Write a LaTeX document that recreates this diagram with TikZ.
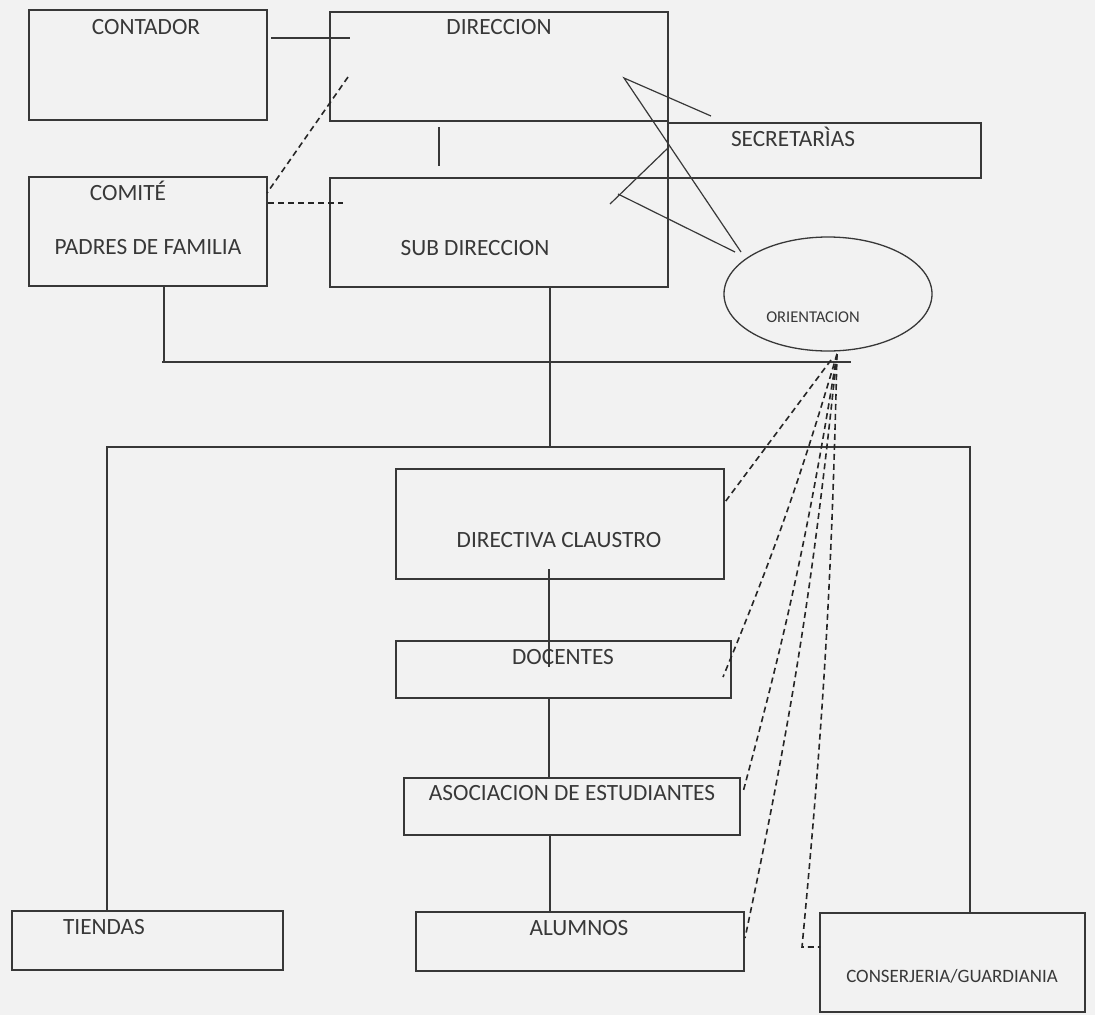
\documentclass[tikz,border=0pt]{standalone}
\usepackage{fontspec}
\setmainfont{Carlito}
\usetikzlibrary{shapes.geometric}
\definecolor{ink}{HTML}{383838}
\definecolor{paper}{HTML}{F2F2F2}
\begin{document}
\begin{tikzpicture}[x=1pt,y=-1pt,
  box/.style={draw=ink,line width=1.1pt,rectangle,inner sep=0pt},
  oval/.style={draw=ink,line width=1.3pt,ellipse,inner sep=0pt},
  lbl/.style={text=ink,inner sep=0pt,font=\fontsize{23.3}{26}\selectfont,text height=15pt,text depth=0pt},
  small/.style={text=ink,inner sep=0pt,font=\fontsize{16.5}{19}\selectfont,text height=10.6pt,text depth=0pt},
  mid/.style={text=ink,inner sep=0pt,font=\fontsize{18.9}{22}\selectfont,text height=12.2pt,text depth=0pt},
  link/.style={draw=ink,line width=1.2pt},
  dlink/.style={draw=black!85,line width=1.6pt,dash pattern=on 6pt off 4pt}]
\fill[paper] (0,0) rectangle (1095,1015);
\useasboundingbox (0,0) rectangle (1095,1015);

% boxes
\node[box,minimum width=238,minimum height=110] (contador) at (148,65) {};
\node[box,minimum width=338,minimum height=109] (direccion) at (499,66.5) {};
\node[box,minimum width=313,minimum height=55] (secretarias) at (824.5,150.5) {};
\node[box,minimum width=238,minimum height=109] (comite) at (148,231.5) {};
\node[box,minimum width=338,minimum height=109] (subdir) at (499,232.5) {};
\node[oval,minimum width=208,minimum height=114] (orient) at (828,294) {};
\node[box,minimum width=328,minimum height=110] (directiva) at (560,524) {};
\node[box,minimum width=335,minimum height=57] (docentes) at (563.5,669.5) {};
\node[box,minimum width=336,minimum height=57] (asoc) at (572,806.5) {};
\node[box,minimum width=328,minimum height=59] (alumnos) at (580,941.5) {};
\node[box,minimum width=271,minimum height=59] (tiendas) at (147.5,940.5) {};
\node[box,minimum width=265,minimum height=99] (conserj) at (952.5,962.5) {};

% labels
\node[lbl] (tcontador) at (146,27) {CONTADOR};
\node[lbl] (tdireccion) at (499,27) {DIRECCION};
\node[lbl] (tsecret) at (793,139) {SECRETARÌAS};
\node[lbl] (tcomite) at (128,193) {COMITÉ};
\node[lbl] (tpadres) at (148,247) {PADRES DE FAMILIA};
\node[lbl] (tsub) at (475,248) {SUB DIRECCION};
\node[small] (torient) at (813,317) {ORIENTACION};
\node[lbl] (tdirectiva) at (559,540) {DIRECTIVA CLAUSTRO};
\node[lbl] (tdocentes) at (563,657) {DOCENTES};
\node[lbl] (tasoc) at (572,793) {ASOCIACION DE ESTUDIANTES};
\node[lbl] (talumnos) at (579,928) {ALUMNOS};
\node[lbl] (ttiendas) at (104,927) {TIENDAS};
\node[mid] (tconserj) at (952,976) {CONSERJERIA/GUARDIANIA};

% free connector ends
\coordinate (ca) at (271,38);
\coordinate (cb) at (350,38);
\coordinate (da) at (348,77);
\coordinate (db) at (267,193);
\coordinate (ha) at (268,203);
\coordinate (hb) at (343,203);
\coordinate (va) at (439,127);
\coordinate (vb) at (439,166);
\coordinate (z1) at (711,116);
\coordinate (z2) at (624,78);
\coordinate (z3) at (741,252);
\coordinate (z4) at (669,147);
\coordinate (z5) at (610,204);
\coordinate (z6) at (618,194);
\coordinate (z7) at (735,252);
\coordinate (cs) at (164,286);
\coordinate (cj) at (164,362);
\coordinate (hl) at (162,362);
\coordinate (hr) at (851,362);
\coordinate (ss) at (550,287);
\coordinate (fs) at (550,447);
\coordinate (fl) at (107,447);
\coordinate (fr) at (970,447);
\coordinate (tl) at (107,911);
\coordinate (cr) at (970,913);
\coordinate (d1) at (549,569);
\coordinate (d2) at (549,667);
\coordinate (d3) at (549,698);
\coordinate (d4) at (549,778);
\coordinate (d5) at (550,835);
\coordinate (d6) at (550,912);
\coordinate (o1) at (831,360);
\coordinate (o0) at (837,354);
\coordinate (e1) at (725,502);
\coordinate (e2) at (723,677);
\coordinate (e3) at (743,792);
\coordinate (e4) at (745,938);
\coordinate (e5) at (802,947);
\coordinate (e6) at (820,947);

% solid connectors
\draw[link] (ca) -- (cb);
\draw[link] (va) -- (vb);
\draw[link] (z1) -- (z2) -- (z3);
\draw[link] (z4) -- (z5);
\draw[link] (z6) -- (z7);
\draw[link] (cs) -- (cj);
\draw[link] (hl) -- (hr);
\draw[link] (ss) -- (fs);
\draw[link] (tl) -- (fl) -- (fr) -- (cr);
\draw[link] (d1) -- (d2);
\draw[link] (d3) -- (d4);
\draw[link] (d5) -- (d6);

% dashed connectors
\draw[dlink] (da) -- (db);
\draw[dlink] (ha) -- (hb);
\draw[dlink] (o1) -- (e1);
\draw[dlink] (o0) to[bend left=3] (e2);
\draw[dlink] (o0) to[bend left=3] (e3);
\draw[dlink] (o0) to[bend left=3] (e4);
\draw[dlink] (o0) to[bend left=2] (e5) -- (e6);
\end{tikzpicture}
\end{document}
